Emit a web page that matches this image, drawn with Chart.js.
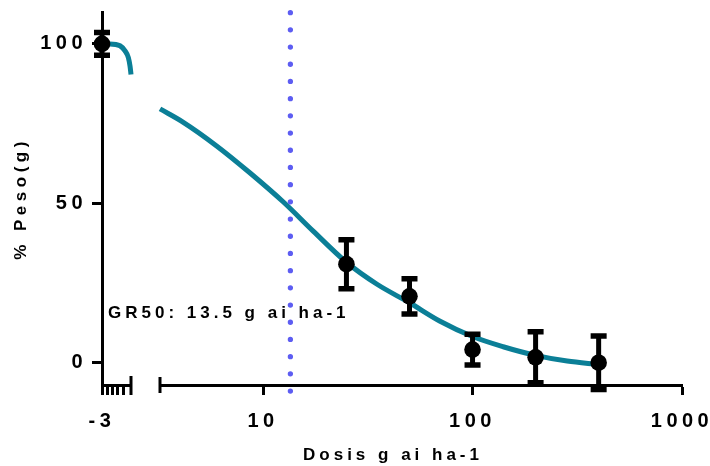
<!DOCTYPE html>
<html>
<head>
<meta charset="utf-8">
<script src="https://cdn.jsdelivr.net/npm/chart.js@4.4.0/dist/chart.umd.min.js"></script>
<style>
  html, body { margin: 0; padding: 0; background: #fff; }
  #wrap { position: relative; width: 710px; height: 466px; }
  #wrap canvas { position: absolute; left: 0; top: 0; }
</style>
</head>
<body>
<div id="wrap">
  <canvas id="chartIzq" width="710" height="466"></canvas>
  <canvas id="chartDer" width="710" height="466"></canvas>
</div>
<script>
// control (dosis 0) va en el segmento izquierdo, en log10 = -3
const dosisControl = [-3];
const pesoControl = [100];
const errorControl = [3.6];

// dosis g ai/ha y % de peso con su desviacion
const dosis = [25, 50, 100, 200, 400];
const peso = [30.9, 20.8, 4.1, 1.7, 0];
const errorPeso = [7.7, 5.5, 4.8, 8.0, 8.4];

// curva ajustada
const curvaIzqX = [-3, -2.1, -0.95, -0.38, 0, 0.19, 0.3];
const curvaIzqY = [100, 100, 99.4, 97.8, 95.7, 93, 90.4];
const curvaDerX = [3.22, 4.16, 6.0, 8.67, 12.5, 17.4, 25, 35, 50, 70, 100, 140, 200, 283, 400];
const curvaDerY = [79.6, 75.4, 68.0, 59.5, 50.4, 41.2, 31.5, 24.6, 18.8, 13.0, 8.2, 5.0, 2.3, 0.5, -0.6];

const gr50 = 13.5;
const lineaGR50Y = [-8.9, 110];

const ticksY = [0, 50, 100];
const ticksIzq = [-3, -2.4, -1.8, -1.2, -0.6];
const ticksDer = [10, 100, 1000];

const negro = '#000';
const azulCurva = '#0b7f97';
const azulGR = '#5d5df2';
const familia = '"Liberation Sans", Arial, sans-serif';
const fuenteTicks = { family: familia, size: 20, weight: 'bold' };

const espaciado = {
    id: 'espaciado',
    beforeDraw(chart) {
        chart.ctx.letterSpacing = '4.5px';
    }
};

const barrasError = {
    id: 'barrasError',
    afterDatasetsDraw(chart, args, opts) {
        const ctx = chart.ctx;
        const xs = chart.scales.x, ys = chart.scales.y;
        ctx.save();
        ctx.strokeStyle = negro;
        opts.x.forEach((d, i) => {
            const px = xs.getPixelForValue(d);
            const arriba = ys.getPixelForValue(opts.y[i] + opts.err[i]);
            const abajo = ys.getPixelForValue(opts.y[i] - opts.err[i]);
            ctx.lineWidth = 5;
            ctx.beginPath();
            ctx.moveTo(px, arriba);
            ctx.lineTo(px, abajo);
            ctx.stroke();
            ctx.lineWidth = 5.5;
            ctx.beginPath();
            ctx.moveTo(px - 8, arriba);
            ctx.lineTo(px + 8, arriba);
            ctx.moveTo(px - 8, abajo);
            ctx.lineTo(px + 8, abajo);
            ctx.stroke();
        });
        ctx.restore();
    }
};

// marcas del corte del eje x
const cortes = {
    id: 'cortes',
    afterDraw(chart, args, opts) {
        const ctx = chart.ctx;
        const a = chart.chartArea;
        const x = opts.lado === 'right' ? a.right : a.left;
        ctx.save();
        ctx.strokeStyle = negro;
        ctx.lineWidth = 3;
        ctx.beginPath();
        ctx.moveTo(x, a.bottom - opts.arriba);
        ctx.lineTo(x, a.bottom + opts.abajo);
        ctx.stroke();
        ctx.restore();
    }
};

const textos = {
    id: 'textos',
    afterDraw(chart, args, opts) {
        const ctx = chart.ctx;
        ctx.save();
        ctx.fillStyle = negro;
        ctx.font = 'bold 17px ' + familia;
        ctx.letterSpacing = '4px';
        ctx.textBaseline = 'middle';
        opts.items.forEach(t => {
            ctx.textAlign = t.align;
            ctx.fillText(t.text, t.x, t.y);
        });
        ctx.restore();
    }
};

function ejeX(extra) {
    return Object.assign({
        afterFit: s => { s.height = 81; s.paddingLeft = 0; s.paddingRight = 0; },
        grid: { drawOnChartArea: false, tickLength: 10, tickWidth: 3, tickColor: negro },
        border: { color: negro, width: 3 }
    }, extra);
}

const chartIzq = new Chart(document.getElementById('chartIzq'), {
    type: 'scatter',
    data: {
        datasets: [{
            data: dosisControl.map((x, i) => ({ x: x, y: pesoControl[i] })),
            pointRadius: 8.3,
            pointBackgroundColor: negro,
            pointBorderWidth: 0,
            clip: false
        }, {
            type: 'line',
            data: curvaIzqX.map((x, i) => ({ x: x, y: curvaIzqY[i] })),
            borderColor: azulCurva,
            borderWidth: 5,
            pointRadius: 0,
            cubicInterpolationMode: 'monotone',
            fill: false,
            clip: false
        }]
    },
    options: {
        responsive: false,
        animation: false,
        devicePixelRatio: 1,
        layout: { padding: { left: 0, top: 12, right: 579, bottom: 0 } },
        plugins: {
            legend: { display: false },
            tooltip: { enabled: false },
            barrasError: { x: dosisControl, y: pesoControl, err: errorControl },
            cortes: { lado: 'right', arriba: 9, abajo: 10 }
        },
        scales: {
            x: ejeX({
                type: 'linear',
                min: -3,
                max: 0.3,
                afterBuildTicks: s => { s.ticks = ticksIzq.map(v => ({ value: v })); },
                ticks: { autoSkip: false, maxRotation: 0, minRotation: 0, padding: 14, color: negro, font: fuenteTicks,
                    callback: v => v === -3 ? '-3' : '' }
            }),
            y: {
                min: -7,
                max: 110,
                afterFit: s => { s.width = 102; s.paddingTop = 0; s.paddingBottom = 0; },
                afterBuildTicks: s => { s.ticks = ticksY.map(v => ({ value: v })); },
                ticks: { padding: 5, color: negro, font: fuenteTicks },
                grid: { drawOnChartArea: false, tickLength: 10, tickWidth: 3, tickColor: negro },
                border: { color: negro, width: 3 },
                title: {
                    display: true,
                    text: '% Peso(g)',
                    color: negro,
                    font: { family: familia, size: 17, weight: 'bold', lineHeight: 1.2 },
                    padding: { top: 11, bottom: 0 }
                }
            }
        }
    },
    plugins: [espaciado, barrasError, cortes]
});

const chartDer = new Chart(document.getElementById('chartDer'), {
    type: 'scatter',
    data: {
        datasets: [{
            data: dosis.map((x, i) => ({ x: x, y: peso[i] })),
            pointRadius: 8.3,
            pointBackgroundColor: negro,
            pointBorderWidth: 0,
            clip: false
        }, {
            type: 'line',
            data: lineaGR50Y.map(y => ({ x: gr50, y: y })),
            borderColor: azulGR,
            borderWidth: 5.3,
            borderDash: [0, 17.2],
            borderCapStyle: 'round',
            pointRadius: 0,
            fill: false,
            clip: false
        }, {
            type: 'line',
            data: curvaDerX.map((x, i) => ({ x: x, y: curvaDerY[i] })),
            borderColor: azulCurva,
            borderWidth: 5,
            pointRadius: 0,
            cubicInterpolationMode: 'monotone',
            fill: false,
            clip: false
        }]
    },
    options: {
        responsive: false,
        animation: false,
        devicePixelRatio: 1,
        layout: { padding: { left: 160, top: 12, right: 28, bottom: 0 } },
        plugins: {
            legend: { display: false },
            tooltip: { enabled: false },
            barrasError: { x: dosis, y: peso, err: errorPeso },
            cortes: { lado: 'left', arriba: 8, abajo: 8 },
            textos: {
                items: [
                    { text: 'GR50: ' + gr50 + ' g ai ha-1', x: 108, y: 313, align: 'left' },
                    { text: 'Dosis g ai ha-1', x: 393, y: 455, align: 'center' }
                ]
            }
        },
        scales: {
            x: ejeX({
                type: 'logarithmic',
                min: 3.22,
                max: 1000,
                afterBuildTicks: s => { s.ticks = ticksDer.map(v => ({ value: v })); },
                ticks: { autoSkip: false, maxRotation: 0, minRotation: 0, padding: 14, color: negro, font: fuenteTicks,
                    callback: v => String(v) }
            }),
            y: { display: false, min: -7, max: 110 }
        }
    },
    plugins: [espaciado, barrasError, cortes, textos]
});
</script>
</body>
</html>
